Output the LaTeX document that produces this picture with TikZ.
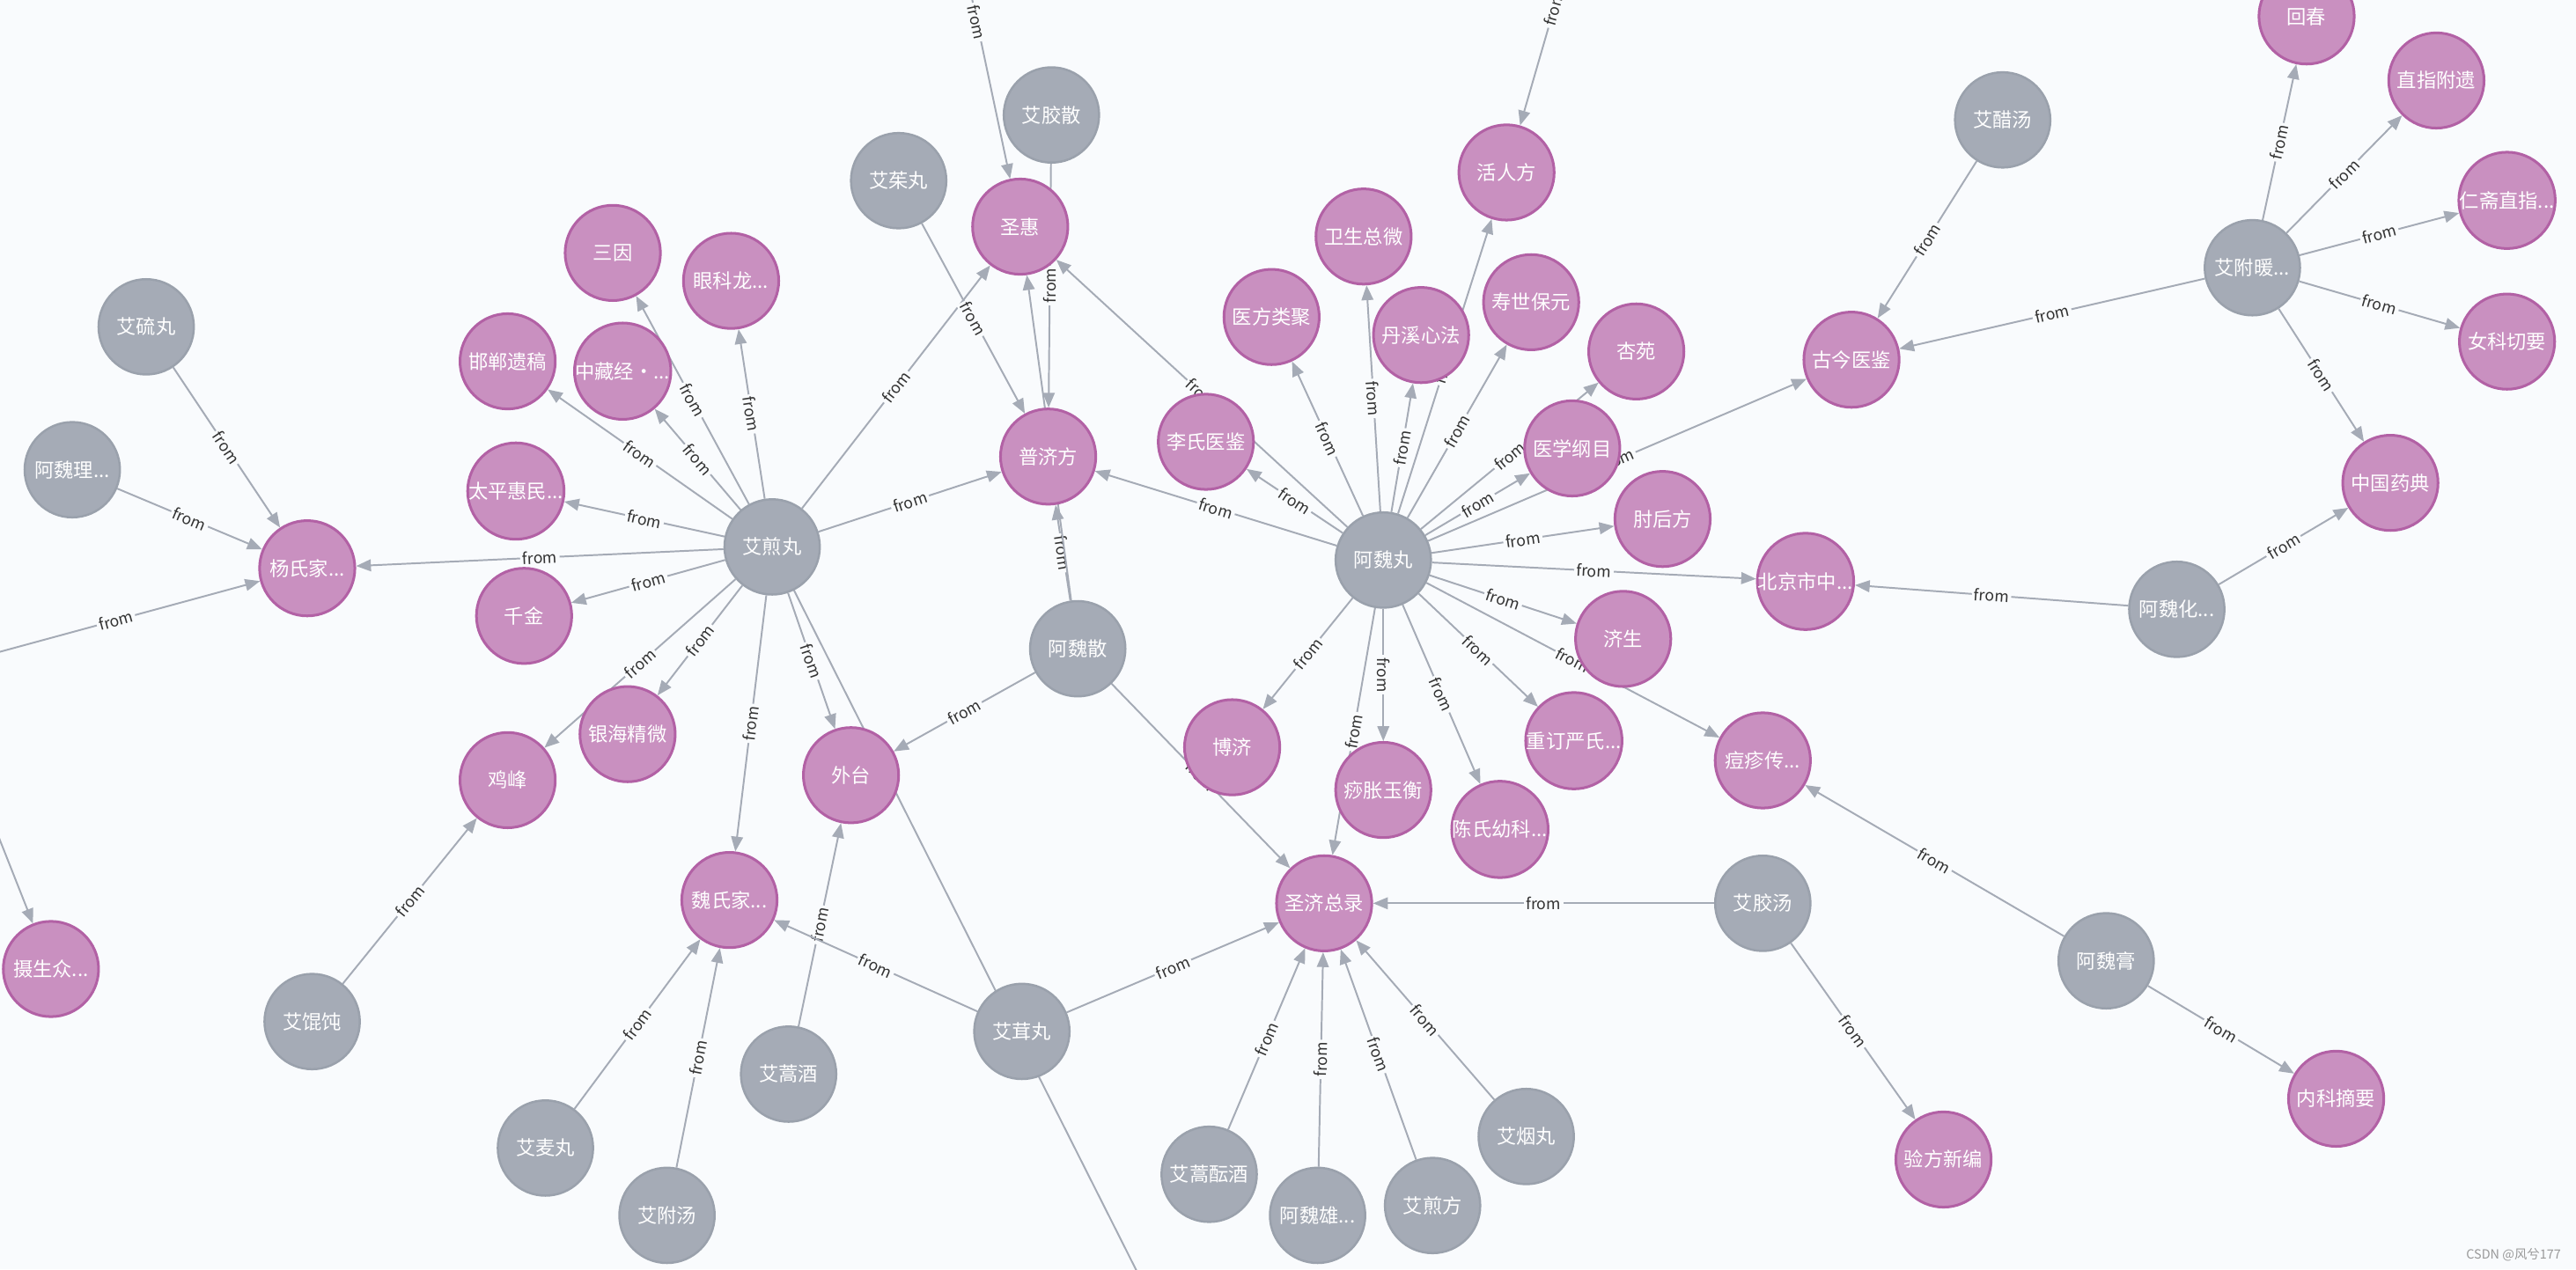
\documentclass[tikz,border=0pt]{standalone}
\usepackage{fontspec}
\usepackage{tikz}
\usepackage{xcolor}
\usetikzlibrary{arrows.meta}
\newfontfamily\cjk{Noto Sans CJK SC}
\definecolor{bgc}{HTML}{F9FBFD}
\definecolor{bookfill}{HTML}{C990C0}
\definecolor{bookline}{HTML}{B261A5}
\definecolor{recfill}{HTML}{A5ABB6}
\definecolor{recline}{HTML}{9AA1AC}
\definecolor{edgec}{HTML}{A5ABB6}
\definecolor{txtc}{HTML}{333333}
\pgfdeclarelayer{edges}
\pgfsetlayers{edges,main}
\begin{document}
\begin{tikzpicture}[x=0.05cm,y=-0.05cm,
	book/.style={circle,minimum size=2.9cm,inner sep=0pt,fill=bookfill,draw=bookline,line width=2.3pt,text=white,font=\cjk\fontsize{17}{17}\selectfont},
	recipe/.style={circle,minimum size=2.9cm,inner sep=0pt,fill=recfill,draw=recline,line width=1.9pt,text=white,font=\cjk\fontsize{17}{17}\selectfont},
	rel/.style={draw=edgec,line width=1.5pt,-{Triangle[length=4.5mm,width=3.6mm]}},
	bare/.style={draw=edgec,line width=1.5pt},
	lbl/.style={sloped,fill=bgc,inner sep=2pt,text=txtc,font=\cjk\fontsize{13.5}{13.5}\selectfont},
	wmark/.style={text=black!40,font=\cjk\fontsize{11}{11}\selectfont}]
				\useasboundingbox (0,0) rectangle (1568,773);
				\clip (0,0) rectangle (1568,773);
				\node[recipe] (liuwan) at (89,199) {艾硫丸};
				\node[recipe] (weili) at (44,286) {阿魏理...};
				\node[book] (yangshi) at (187,346) {杨氏家...};
				\node[book] (shesheng) at (31,590) {摄生众...};
				\node[recipe] (jianwan) at (470,333) {艾煎丸};
				\node[book] (sanyin) at (373,154) {三因};
				\node[book] (yanke) at (445,171) {眼科龙...};
				\node[book] (handan) at (309,220) {邯郸遗稿};
				\node[book] (zhongzang) at (379,226) {中藏经·...};
				\node[book] (taiping) at (314,299) {太平惠民...};
				\node[book] (qianjin) at (319,375) {千金};
				\node[book] (yinhai) at (382,447) {银海精微};
				\node[book] (jifeng) at (309,475) {鸡峰};
				\node[book] (waitai) at (518,472) {外台};
				\node[book] (weishi) at (444,548) {魏氏家...};
				\node[recipe] (huntun) at (190,622) {艾馄饨};
				\node[recipe] (maiwan) at (332,699) {艾麦丸};
				\node[recipe] (futang) at (406,740) {艾附汤};
				\node[recipe] (haojiu) at (480,654) {艾蒿酒};
				\node[recipe] (rongwan) at (622,628) {艾茸丸};
				\node[recipe] (weisan) at (656,395) {阿魏散};
				\node[book] (puji) at (638,278) {普济方};
				\node[book] (shenghui) at (621,138) {圣惠};
				\node[recipe] (jiaosan) at (640,70) {艾胶散};
				\node[recipe] (zhuwan) at (547,110) {艾茱丸};
				\node[book] (lishi) at (734,269) {李氏医鉴};
				\node[recipe] (weiwan) at (842,341) {阿魏丸};
				\node[book] (leiju) at (774,193) {医方类聚};
				\node[book] (weisheng) at (830,144) {卫生总微};
				\node[book] (huoren) at (917,105) {活人方};
				\node[book] (danxi) at (865,204) {丹溪心法};
				\node[book] (shoushi) at (932,184) {寿世保元};
				\node[book] (xingyuan) at (996,214) {杏苑};
				\node[book] (gangmu) at (957,273) {医学纲目};
				\node[book] (zhouhou) at (1012,316) {肘后方};
				\node[book] (beijing) at (1099,354) {北京市中...};
				\node[book] (jisheng) at (988,389) {济生};
				\node[book] (yanshi) at (958,451) {重订严氏...};
				\node[book] (chenshi) at (913,505) {陈氏幼科...};
				\node[book] (shazhang) at (842,481) {痧胀玉衡};
				\node[book] (boji) at (750,455) {博济};
				\node[book] (shengji) at (806,550) {圣济总录};
				\node[book] (douzhen) at (1073,463) {痘疹传...};
				\node[recipe] (jiaotang) at (1073,550) {艾胶汤};
				\node[book] (yanfang) at (1183,706) {验方新编};
				\node[recipe] (haoyun) at (736,715) {艾蒿酝酒};
				\node[recipe] (weixiong) at (802,740) {阿魏雄...};
				\node[recipe] (jianfang) at (872,734) {艾煎方};
				\node[recipe] (yanwan) at (929,692) {艾烟丸};
				\node[book] (gujin) at (1127,219) {古今医鉴};
				\node[recipe] (cutang) at (1219,73) {艾醋汤};
				\node[recipe] (funuan) at (1371,163) {艾附暖...};
				\node[book] (huichun) at (1404,10) {回春};
				\node[book] (zhizhi) at (1483,49) {直指附遗};
				\node[book] (renzhai) at (1526,122) {仁斋直指...};
				\node[book] (nvke) at (1526,208) {女科切要};
				\node[book] (yaodian) at (1455,294) {中国药典};
				\node[recipe] (weihua) at (1325,371) {阿魏化...};
				\node[recipe] (weigao) at (1282,585) {阿魏膏};
				\node[book] (neike) at (1422,669) {内科摘要};
				\node[wmark] (csdn) at (1530,764) {CSDN @风兮177};
				\coordinate (offL) at (-41,408);
				\coordinate (offT1) at (569,-108);
				\coordinate (offT2) at (972,-85);
				\coordinate (offB) at (700,790);
				\begin{pgfonlayer}{edges}
				\fill[bgc] (0,0) rectangle (1568,773);
				\draw[rel] (offL) -- node[lbl,pos=0.56]{from} (yangshi);
				\draw[rel] (offL) -- node[lbl,pos=0.56]{from} (shesheng);
				\draw[rel] (liuwan) -- node[lbl]{from} (yangshi);
				\draw[rel] (weili) -- node[lbl]{from} (yangshi);
				\draw[rel] (jianwan) -- node[lbl]{from} (yangshi);
				\draw[rel] (jianwan) -- node[lbl]{from} (sanyin);
				\draw[rel] (jianwan) -- node[lbl]{from} (yanke);
				\draw[rel] (jianwan) -- node[lbl]{from} (handan);
				\draw[rel] (jianwan) -- node[lbl]{from} (zhongzang);
				\draw[rel] (jianwan) -- node[lbl]{from} (taiping);
				\draw[rel] (jianwan) -- node[lbl]{from} (qianjin);
				\draw[rel] (jianwan) -- node[lbl]{from} (yinhai);
				\draw[rel] (jianwan) -- node[lbl]{from} (jifeng);
				\draw[rel] (jianwan) -- node[lbl]{from} (waitai);
				\draw[rel] (jianwan) -- node[lbl]{from} (weishi);
				\draw[rel] (jianwan) -- node[lbl]{from} (puji);
				\draw[rel] (jianwan) -- node[lbl]{from} (shenghui);
				\draw[bare] (offB) -- (jianwan.center);
				\draw[rel] (huntun) -- node[lbl]{from} (jifeng);
				\draw[rel] (maiwan) -- node[lbl]{from} (weishi);
				\draw[rel] (futang) -- node[lbl]{from} (weishi);
				\draw[rel] (haojiu) -- node[lbl]{from} (waitai);
				\draw[rel] (rongwan) -- node[lbl]{from} (weishi);
				\draw[rel] (rongwan) -- node[lbl]{from} (shengji);
				\draw[rel] (weisan) -- node[lbl]{from} (waitai);
				\draw[rel] (weisan) -- node[lbl]{from} (puji);
				\draw[rel] (weisan) -- node[lbl]{from} (shenghui);
				\draw[rel] (weisan) -- node[lbl]{from} (shengji);
				\draw[rel] (zhuwan) -- node[lbl]{from} (puji);
				\draw[rel] (jiaosan) -- node[lbl]{from} (puji);
				\draw[rel] (offT1) -- node[lbl,pos=0.56]{from} (shenghui);
				\draw[rel] (weiwan) -- node[lbl]{from} (puji);
				\draw[rel] (weiwan) -- node[lbl]{from} (lishi);
				\draw[rel] (weiwan) -- node[lbl]{from} (shenghui);
				\draw[rel] (weiwan) -- node[lbl]{from} (leiju);
				\draw[rel] (weiwan) -- node[lbl]{from} (weisheng);
				\draw[rel] (weiwan) -- node[lbl]{from} (danxi);
				\draw[rel] (weiwan) -- node[lbl]{from} (huoren);
				\draw[rel] (weiwan) -- node[lbl]{from} (shoushi);
				\draw[rel] (weiwan) -- node[lbl]{from} (xingyuan);
				\draw[rel] (weiwan) -- node[lbl]{from} (gangmu);
				\draw[rel] (weiwan) -- node[lbl]{from} (gujin);
				\draw[rel] (weiwan) -- node[lbl]{from} (zhouhou);
				\draw[rel] (weiwan) -- node[lbl]{from} (beijing);
				\draw[rel] (weiwan) -- node[lbl]{from} (jisheng);
				\draw[rel] (weiwan) -- node[lbl]{from} (douzhen);
				\draw[rel] (weiwan) -- node[lbl]{from} (yanshi);
				\draw[rel] (weiwan) -- node[lbl]{from} (chenshi);
				\draw[rel] (weiwan) -- node[lbl]{from} (shazhang);
				\draw[rel] (weiwan) -- node[lbl]{from} (shengji);
				\draw[rel] (weiwan) -- node[lbl]{from} (boji);
				\draw[rel] (offT2) -- node[lbl,pos=0.56]{from} (huoren);
				\draw[rel] (jiaotang) -- node[lbl]{from} (shengji);
				\draw[rel] (jiaotang) -- node[lbl]{from} (yanfang);
				\draw[rel] (haoyun) -- node[lbl]{from} (shengji);
				\draw[rel] (weixiong) -- node[lbl]{from} (shengji);
				\draw[rel] (jianfang) -- node[lbl]{from} (shengji);
				\draw[rel] (yanwan) -- node[lbl]{from} (shengji);
				\draw[rel] (cutang) -- node[lbl]{from} (gujin);
				\draw[rel] (funuan) -- node[lbl]{from} (gujin);
				\draw[rel] (funuan) -- node[lbl]{from} (huichun);
				\draw[rel] (funuan) -- node[lbl]{from} (zhizhi);
				\draw[rel] (funuan) -- node[lbl]{from} (renzhai);
				\draw[rel] (funuan) -- node[lbl]{from} (nvke);
				\draw[rel] (funuan) -- node[lbl]{from} (yaodian);
				\draw[rel] (weihua) -- node[lbl]{from} (yaodian);
				\draw[rel] (weihua) -- node[lbl]{from} (beijing);
				\draw[rel] (weigao) -- node[lbl]{from} (douzhen);
				\draw[rel] (weigao) -- node[lbl]{from} (neike);
				\end{pgfonlayer}
			\end{tikzpicture}
\end{document}
